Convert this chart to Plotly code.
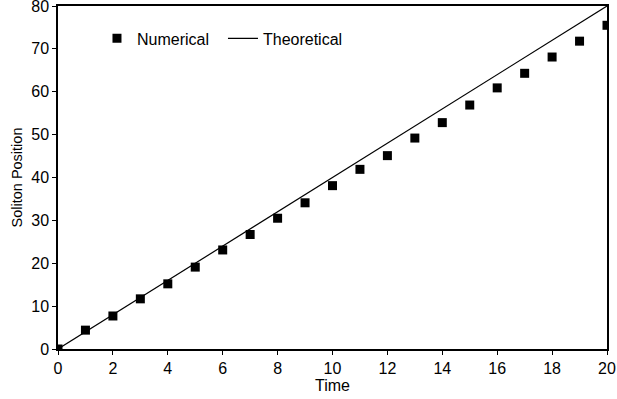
import plotly.graph_objects as go

time_num = list(range(0, 21))
pos_num = [0, 4.4, 7.7, 11.7, 15.2, 19.1, 23.1, 26.7, 30.5, 34.1, 38.1,
           41.9, 45.1, 49.2, 52.8, 56.9, 60.9, 64.3, 68.1, 71.8, 75.5]
time_theo = list(range(0, 21))
pos_theo = [0, 4, 8, 12, 16, 20, 24, 28, 32, 36, 40,
            44, 48, 52, 56, 60, 64, 68, 72, 76, 80]

fig = go.Figure()
fig.add_trace(go.Scatter(x=time_num, y=pos_num, mode="markers", name="Numerical",
                         marker=dict(symbol="square", size=9, color="black")))
fig.add_trace(go.Scatter(x=time_theo, y=pos_theo, mode="lines", name="Theoretical",
                         line=dict(color="black", width=1.2)))

font = "Liberation Sans, Arial, sans-serif"
fig.update_layout(
    width=617, height=399,
    margin=dict(l=58, r=10, t=6, b=50),
    plot_bgcolor="white", paper_bgcolor="white",
    font=dict(family=font, size=16, color="black"),
    showlegend=True,
    legend=dict(orientation="h", x=0.071, y=0.955, xanchor="left", yanchor="top",
                bgcolor="rgba(0,0,0,0)", font=dict(size=16), itemwidth=30,
                entrywidth=81, entrywidthmode="pixels"),
    xaxis=dict(range=[0, 20], tickvals=list(range(0, 21, 2)), showgrid=False, zeroline=False,
               showline=True, linecolor="black", linewidth=1.5, mirror=True,
               ticks="outside", ticklen=4, tickcolor="black", automargin=False,
               tickfont=dict(size=16), ticklabeloverflow="allow",
               title=dict(text="Time", font=dict(size=16), standoff=3)),
    yaxis=dict(range=[0, 80], tickvals=list(range(0, 81, 10)), showgrid=False, zeroline=False,
               showline=True, linecolor="black", linewidth=1.5, mirror=True,
               ticks="outside", ticklen=4, tickcolor="black", automargin=False,
               tickfont=dict(size=16), ticklabelstandoff=0, ticklabeloverflow="allow",
               title=dict(text="Soliton Position", font=dict(size=14.5), standoff=5)),
)
fig.write_html("out.html", config={"displayModeBar": False},
               post_script="document.body.style.margin='0';")
